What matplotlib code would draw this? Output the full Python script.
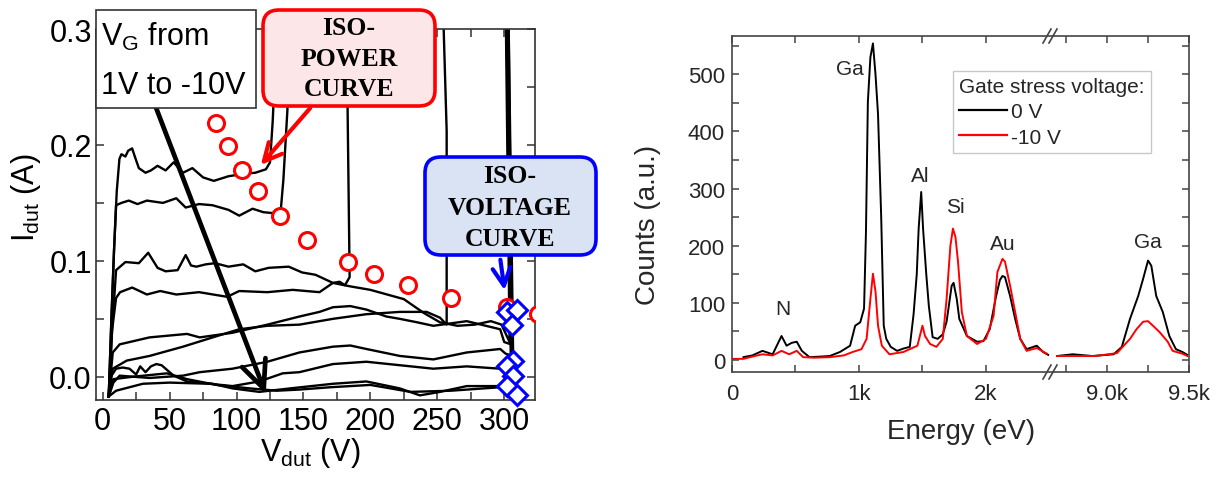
import matplotlib
matplotlib.use('Agg')
import matplotlib.pyplot as plt
from matplotlib.patches import FancyBboxPatch, FancyArrowPatch
from matplotlib.lines import Line2D
from matplotlib.transforms import IdentityTransform
from matplotlib.ticker import FixedLocator, MultipleLocator, FormatStrFormatter

plt.rcParams['font.family'] = ['Liberation Sans', 'DejaVu Sans']
plt.rcParams['mathtext.fontset'] = 'custom'
plt.rcParams['mathtext.rm'] = 'Liberation Sans'
plt.rcParams['mathtext.it'] = 'Liberation Sans:italic'

W, H = 1217, 481

# ---- left panel: I_dut vs V_dut curves (V_G from 1 V to -10 V) ----
v1 = [4.5, 6.5, 8.5, 10.5, 12.5, 14, 17, 19, 22, 24, 27, 32, 36, 41, 47, 53, 60, 67, 75, 83, 94, 105, 114, 122, 125, 127, 129, 131]
i1 = [-0.017, 0.05, 0.11, 0.16, 0.188, 0.192, 0.19, 0.195, 0.197, 0.19, 0.18, 0.176, 0.178, 0.182, 0.178, 0.185, 0.176, 0.18, 0.172, 0.169, 0.173, 0.175, 0.176, 0.179, 0.185, 0.22, 0.27, 0.33]
v2 = [4.5, 6.5, 8.5, 10, 14, 19.5, 26, 33, 45, 55, 62, 72, 82, 94, 102, 112, 120, 129, 133, 135, 138, 141]
i2 = [-0.017, 0.05, 0.11, 0.148, 0.150, 0.152, 0.149, 0.152, 0.150, 0.154, 0.146, 0.149, 0.148, 0.144, 0.139, 0.145, 0.142, 0.141, 0.143, 0.17, 0.23, 0.33]
v3 = [4.5, 7, 10, 17, 27, 34, 41, 47, 56, 62, 66, 70, 77, 84, 94, 105, 114, 124, 139, 149, 159, 172, 185, 200, 225, 240, 252, 265, 278, 290, 298, 302, 304, 301]
i3 = [-0.017, 0.04, 0.092, 0.099, 0.098, 0.107, 0.094, 0.091, 0.092, 0.105, 0.096, 0.095, 0.097, 0.098, 0.095, 0.097, 0.091, 0.094, 0.095, 0.090, 0.088, 0.081, 0.078, 0.075, 0.067, 0.055, 0.047, 0.044, 0.045, 0.048, 0.045, 0.035, 0.03, 0.33]
v4 = [4.5, 7, 10, 13, 22, 33, 43, 55, 72, 93, 102, 123, 142, 162, 172, 177, 181, 184.5, 183, 182]
i4 = [-0.017, 0.04, 0.068, 0.073, 0.077, 0.071, 0.074, 0.071, 0.073, 0.069, 0.074, 0.073, 0.075, 0.073, 0.081, 0.082, 0.079, 0.086, 0.229, 0.33]
v5 = [4.5, 7.5, 12.7, 35, 63, 72.5, 97, 123, 147, 162, 172, 185, 197, 212, 222, 235, 247, 272, 297, 300, 305, 302]
i5 = [-0.017, 0.021, 0.028, 0.034, 0.037, 0.034, 0.038, 0.045, 0.052, 0.056, 0.060, 0.061, 0.058, 0.052, 0.050, 0.047, 0.044, 0.048, 0.041, 0.03, 0.028, 0.33]
v6 = [4.5, 7.5, 18, 35, 60, 85, 102, 123, 147, 172, 197, 222, 242, 252, 257, 257, 254]
i6 = [-0.017, 0.007, 0.014, 0.018, 0.026, 0.035, 0.041, 0.044, 0.045, 0.050, 0.054, 0.056, 0.056, 0.051, 0.045, 0.212, 0.33]
v7 = [4.5, 6, 10, 15, 20, 25, 28, 32, 36, 40, 44, 48, 53, 63, 82, 97, 117, 140, 172, 197, 222, 237, 252, 272, 297, 303, 306, 302.5]
i7 = [-0.017, 0.0, 0.007, 0.008, 0.007, 0.002, 0.009, 0.004, 0.009, 0.011, 0.010, 0.006, 0.001, -0.004, -0.006, -0.010, -0.013, -0.010, -0.006, -0.004, -0.010, -0.016, -0.013, -0.008, -0.008, -0.006, -0.004, 0.33]
v8 = [4.5, 8, 22, 48, 63, 85, 110, 130, 147, 170, 200, 230, 260, 297, 304, 307, 303]
i8 = [-0.017, -0.002, 0.0, 0.003, -0.002, -0.007, -0.010, -0.012, -0.011, -0.009, -0.007, -0.013, -0.012, -0.009, -0.012, -0.01, 0.33]
v9 = [4.5, 8, 12.7, 35, 60, 72.5, 97, 123, 147, 172, 185, 197, 222, 247, 272, 297, 301, 306, 303]
i9 = [-0.017, -0.005, 0.001, -0.001, 0.001, 0.004, 0.007, 0.013, 0.021, 0.026, 0.027, 0.024, 0.018, 0.015, 0.021, 0.024, 0.02, 0.018, 0.33]
v10 = [4.5, 10, 30, 50, 80, 97, 117, 134.5, 147, 172, 197, 222, 247, 272, 297, 305, 301.5]
i10 = [-0.017, -0.012, -0.006, -0.005, -0.006, -0.008, -0.004, 0.003, 0.004, 0.011, 0.013, 0.010, 0.007, 0.009, 0.007, 0.005, 0.33]
curves = [(v1, i1), (v2, i2), (v3, i3), (v4, i4), (v5, i5),
          (v6, i6), (v7, i7), (v8, i8), (v9, i9), (v10, i10)]

iso_power_v = [84.5, 93.4, 103.9, 115.8, 132.3, 153, 183, 202.5, 228, 260, 302, 325]
iso_power_i = [0.219, 0.199, 0.178, 0.160, 0.139, 0.118, 0.099, 0.089, 0.079, 0.068, 0.060, 0.054]
iso_volt_v = [302, 309.5, 305.7, 306.4, 302, 306.4, 302, 309.5]
iso_volt_i = [0.056, 0.058, 0.045, 0.014, 0.009, 0.001, -0.008, -0.016]

# ---- right panel: EDX spectra ----
e_b1 = [90, 160, 240, 320, 390, 430, 470, 510, 550, 610, 700, 770, 850, 930, 970, 1010, 1040, 1055, 1070, 1090,
        1110, 1130, 1150, 1175, 1195, 1215, 1250, 1300, 1350, 1400, 1430, 1455, 1470, 1490, 1505, 1530, 1550, 1580,
        1620, 1660, 1690, 1730, 1745, 1770, 1790, 1850, 1930, 1980, 2030, 2080, 2110, 2130, 2150, 2190, 2230, 2270,
        2320, 2360, 2400, 2450, 2490]
c_b1 = [5, 8, 16, 10, 42, 25, 30, 32, 16, 5, 6, 7, 14, 25, 60, 66, 90, 224, 452, 530,
        554, 500, 430, 250, 60, 37, 23, 16, 20, 23, 80, 150, 230, 294, 229, 150, 95, 40,
        37, 45, 67, 130, 135, 107, 72, 42, 32, 33, 54, 112, 140, 147, 145, 112, 72, 37,
        19, 22, 25, 14, 9]
e_r1 = [0, 90, 160, 240, 320, 390, 450, 510, 560, 650, 770, 880, 950, 1020, 1060, 1090, 1110, 1130, 1150, 1180,
        1240, 1350, 1460, 1500, 1520, 1560, 1610, 1660, 1690, 1720, 1740, 1760, 1780, 1810, 1850, 1930, 2000,
        2060, 2090, 2130, 2150, 2190, 2230, 2270, 2320, 2400, 2480]
c_r1 = [2, 2, 6, 10, 8, 16, 10, 16, 5, 4, 5, 8, 14, 19, 37, 107, 151, 120, 60, 25,
        10, 14, 25, 60, 42, 28, 23, 37, 107, 200, 230, 215, 172, 84, 42, 28, 37,
        77, 154, 177, 172, 130, 84, 37, 16, 21, 11]
e_b2 = [8695, 8790, 8910, 9040, 9090, 9140, 9190, 9220, 9250, 9270, 9300, 9340, 9380, 9420, 9460, 9490]
c_b2 = [7, 10, 7, 10, 23, 72, 112, 142, 174, 165, 112, 84, 42, 19, 14, 9]
e_r2 = [8695, 8790, 8930, 9060, 9140, 9180, 9220, 9250, 9280, 9320, 9370, 9400, 9460, 9490]
c_r2 = [7, 7, 7, 12, 37, 54, 67, 68, 60, 49, 32, 16, 11, 7]

peak_labels = [('N', 400, 90), ('Ga', 930, 510), ('Al', 1480, 323), ('Si', 1760, 268), ('Au', 2130, 203)]
peak_labels_hi = [('Ga', 9250, 207)]


def fx(px):
    return px / W


def fy(py):
    return 1 - py / H


fig = plt.figure(figsize=(W / 100, H / 100), dpi=100)

# ---------------- left panel ----------------
ax = fig.add_axes([fx(96), fy(401), fx(535) - fx(96), fy(30) - fy(401)])
for v, i in curves:
    ax.plot(v, i, color='black', lw=1.7, solid_joinstyle='round')
ax.plot(iso_power_v[:-1], iso_power_i[:-1], 'o', ms=11.5, mfc='white', mec='red', mew=2.2,
        clip_on=False, zorder=5)
ax.plot(iso_power_v[-1:], iso_power_i[-1:], 'o', ms=11.5, mfc='white', mec='red', mew=2.2,
        clip_on=True, zorder=5)
ax.plot(iso_volt_v, iso_volt_i, 'D', ms=10, mfc='white', mec='blue', mew=2.2,
        clip_on=False, zorder=6)
ax.set_xlim(-5, 323)
ax.set_ylim(-0.02, 0.3)
ax.xaxis.set_major_locator(FixedLocator([0, 50, 100, 150, 200, 250, 300]))
ax.xaxis.set_minor_locator(FixedLocator([25, 75, 125, 175, 225, 275]))
ax.yaxis.set_major_locator(FixedLocator([0.0, 0.1, 0.2, 0.3]))
ax.yaxis.set_minor_locator(FixedLocator([0.05, 0.15, 0.25]))
ax.yaxis.set_major_formatter(FormatStrFormatter('%.1f'))
ax.tick_params(which='both', direction='in', top=True, right=True, length=6,
               width=1.1, color='#333333')
ax.tick_params(axis='x', labelsize=22, pad=4)
ax.tick_params(axis='y', labelsize=22, pad=3)
for s in ax.spines.values():
    s.set_color('#333333')
    s.set_linewidth(1.2)

ax.annotate('', xy=(122.6, -0.017), xytext=(38.9, 0.235),
            arrowprops=dict(arrowstyle='->,head_length=1.0,head_width=0.45',
                            lw=3.4, color='black', mutation_scale=20), zorder=4)

fig.text(fx(310), fy(461), r'$\mathregular{V_{dut}}$ (V)', fontsize=22,
         ha='center', va='baseline')
fig.text(fx(26), fy(198), r'$\mathregular{I_{dut}}$ (A)', fontsize=22,
         ha='center', va='center', rotation=90)


def box(x0, y0, x1, y1, fc, ec, lw, rounded):
    style = 'round,pad=0,rounding_size=16' if rounded else 'square,pad=0'
    p = FancyBboxPatch((x0, H - y1), x1 - x0, y1 - y0, boxstyle=style,
                       transform=IdentityTransform(), fc=fc, ec=ec, lw=lw, zorder=2)
    fig.add_artist(p)


def arrow(p0, p1, color, lw, scale):
    a = FancyArrowPatch((p0[0], H - p0[1]), (p1[0], H - p1[1]),
                        transform=IdentityTransform(),
                        arrowstyle='->,head_length=0.8,head_width=0.4',
                        mutation_scale=scale, lw=lw, color=color, zorder=3)
    fig.add_artist(a)


# V_G box
box(96, 11, 256, 109, 'white', '#333333', 1.2, False)
fig.text(fx(101), fy(37), r'$\mathregular{V_G}$ from', fontsize=22, ha='left', va='center', zorder=4)
fig.text(fx(101), fy(86), '1V to -10V', fontsize=22, ha='left', va='center', zorder=4)

# ISO-POWER box
box(263, 11, 435, 107, '#fde6e8', 'red', 2.6, True)
for txt, yy in [('ISO-', 29), ('POWER', 60), ('CURVE', 90)]:
    fig.text(fx(349), fy(yy), txt, fontsize=18.5, family='Liberation Serif',
             weight='bold', ha='center', va='center', zorder=4)
arrow((312, 107), (259, 168), 'red', 3.0, 16)

# ISO-VOLTAGE box
box(425, 158, 596, 256, '#dae3f3', 'blue', 2.6, True)
for txt, yy in [('ISO-', 177), ('VOLTAGE', 209), ('CURVE', 239)]:
    fig.text(fx(510), fy(yy), txt, fontsize=18.5, family='Liberation Serif',
             weight='bold', ha='center', va='center', zorder=4)
arrow((500, 258), (505, 294), 'blue', 3.0, 16)

# ---------------- right panel ----------------
txt_col = '#262626'
axA = fig.add_axes([fx(732), fy(373), fx(1053) - fx(732), fy(37) - fy(373)])
axB = fig.add_axes([fx(1053), fy(373), fx(1189) - fx(1053), fy(37) - fy(373)])

axA.plot(e_b1, c_b1, color='black', lw=1.4)
axA.plot(e_r1, c_r1, color='red', lw=1.4)
axB.plot(e_b2, c_b2, color='black', lw=1.4)
axB.plot(e_r2, c_r2, color='red', lw=1.4)

for a in (axA, axB):
    a.set_ylim(-21, 567)
    for s in a.spines.values():
        s.set_color('#444444')
        s.set_linewidth(1.2)
    a.tick_params(which='both', direction='in', top=True, length=5, width=1.1,
                  color='#444444', labelsize=16, labelcolor=txt_col)
    a.tick_params(axis='x', pad=8)

axA.set_xlim(0, 2528)
axA.spines['right'].set_visible(False)
axA.xaxis.set_major_locator(FixedLocator([0, 1000, 2000]))
axA.xaxis.set_minor_locator(FixedLocator([500, 1500]))
axA.set_xticklabels(['0', '1k', '2k'])
axA.yaxis.set_major_locator(MultipleLocator(100))
axA.yaxis.set_minor_locator(MultipleLocator(50))
axA.tick_params(axis='y', right=False, pad=5)

axB.set_xlim(8670, 9500)
axB.spines['left'].set_visible(False)
axB.xaxis.set_major_locator(FixedLocator([9000, 9500]))
axB.xaxis.set_minor_locator(FixedLocator([8750, 9250]))
axB.set_xticklabels(['9.0k', '9.5k'])
axB.yaxis.set_major_locator(MultipleLocator(100))
axB.yaxis.set_minor_locator(MultipleLocator(50))
axB.tick_params(axis='y', which='both', left=False, labelleft=False, right=True, labelright=False)

for name, e, c in peak_labels:
    axA.text(e, c, name, fontsize=15, color=txt_col, ha='center', va='center')
for name, e, c in peak_labels_hi:
    axB.text(e, c, name, fontsize=15, color=txt_col, ha='center', va='center')

# axis break marks
for yb in (37, 373):
    for off in (-3, 3):
        fig.add_artist(Line2D([1050 + off - 4, 1050 + off + 4], [H - yb - 7, H - yb + 7],
                              transform=IdentityTransform(), color='#444444', lw=1.2))

fig.text(fx(961), fy(432), 'Energy (eV)', fontsize=20, color=txt_col, ha='center', va='center')
fig.text(fx(648), fy(225), 'Counts (a.u.)', fontsize=20, color=txt_col, ha='center',
         va='center', rotation=90)

handles = [Line2D([], [], color='black', lw=1.6), Line2D([], [], color='red', lw=1.6)]
leg = fig.legend(handles, ['0 V', '-10 V'], title='Gate stress voltage:',
                 loc='upper left', bbox_to_anchor=(fx(953), fy(72)), fontsize=15,
                 title_fontsize=15, frameon=True, fancybox=False, edgecolor='#bbbbbb',
                 handlelength=2.3, handletextpad=0.2, labelspacing=0.3, borderpad=0.3,
                 borderaxespad=0, alignment='left')
leg.get_frame().set_linewidth(1.0)
for t in leg.get_texts():
    t.set_color(txt_col)
leg.get_title().set_color(txt_col)

fig.savefig('out.png', dpi=100)
